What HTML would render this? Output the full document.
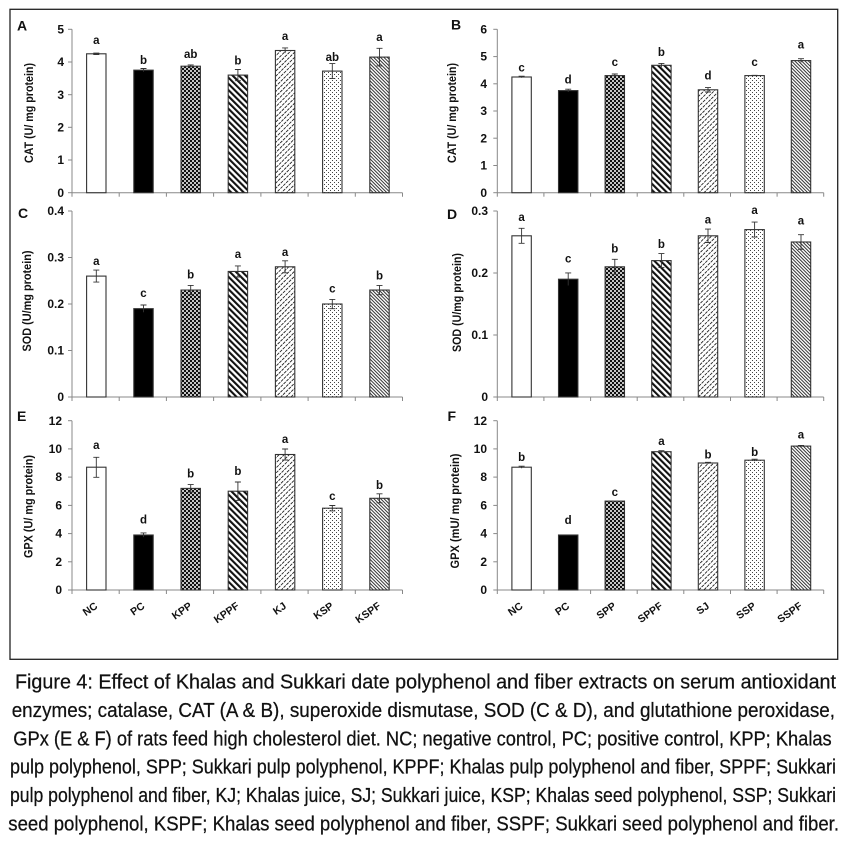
<!DOCTYPE html>
<html><head><meta charset="utf-8"><style>
html,body{margin:0;padding:0;background:#fff;}
svg{display:block;}
</style></head><body>
<svg width="849" height="845" viewBox="0 0 849 845" xmlns="http://www.w3.org/2000/svg">
<defs>
<pattern id="chk" width="4" height="4" patternUnits="userSpaceOnUse"><rect width="4" height="4" fill="#111"/><circle cx="1" cy="1" r="1" fill="#fff"/><circle cx="3" cy="3" r="1" fill="#fff"/></pattern>
<pattern id="str" width="4.4" height="4.4" patternUnits="userSpaceOnUse" patternTransform="rotate(-45)"><rect width="4.4" height="4.4" fill="#fff"/><rect width="2.1" height="4.4" fill="#111"/></pattern>
<pattern id="dsh" width="3.6" height="4" patternUnits="userSpaceOnUse" patternTransform="rotate(45)"><rect width="3.6" height="4" fill="#fff"/><rect width="0.9" height="3" fill="#222"/></pattern>
<pattern id="dot" width="4" height="4" patternUnits="userSpaceOnUse"><rect width="4" height="4" fill="#fff"/><rect width="1" height="1" fill="#444"/><rect x="2" y="2" width="1" height="1" fill="#444"/></pattern>
<pattern id="fin" width="2.4" height="2.4" patternUnits="userSpaceOnUse" patternTransform="rotate(-45)"><rect width="2.4" height="2.4" fill="#fff"/><rect width="1" height="2.4" fill="#333"/></pattern>
</defs>

<rect x="10" y="9.3" width="827.7" height="650" fill="none" stroke="#222" stroke-width="1.3"/>

<g font-family="Liberation Sans, Arial, sans-serif" font-weight="bold" fill="#111">

<!-- ================= PANEL A ================= -->
<text x="17" y="30.7" font-size="14">A</text>
<g stroke="#888" stroke-width="1">
<line x1="72" y1="29.3" x2="72" y2="192.7"/>
<line x1="72" y1="192.7" x2="402.5" y2="192.7"/>
<line x1="68" y1="192.7" x2="72" y2="192.7"/><line x1="68" y1="160" x2="72" y2="160"/><line x1="68" y1="127.3" x2="72" y2="127.3"/><line x1="68" y1="94.7" x2="72" y2="94.7"/><line x1="68" y1="62" x2="72" y2="62"/><line x1="68" y1="29.3" x2="72" y2="29.3"/>
<line x1="72" y1="192.7" x2="72" y2="196.7"/><line x1="119.2" y1="192.7" x2="119.2" y2="196.7"/><line x1="166.4" y1="192.7" x2="166.4" y2="196.7"/><line x1="213.6" y1="192.7" x2="213.6" y2="196.7"/><line x1="260.9" y1="192.7" x2="260.9" y2="196.7"/><line x1="308.1" y1="192.7" x2="308.1" y2="196.7"/><line x1="355.3" y1="192.7" x2="355.3" y2="196.7"/><line x1="402.5" y1="192.7" x2="402.5" y2="196.7"/>
</g>
<g font-size="12" text-anchor="end">
<text x="64" y="196.8">0</text><text x="64" y="164.1">1</text><text x="64" y="131.4">2</text><text x="64" y="98.8">3</text><text x="64" y="66.1">4</text><text x="64" y="33.4">5</text>
</g>
<text transform="translate(33,113) rotate(-90)" font-size="11.5" text-anchor="middle" textLength="100" lengthAdjust="spacingAndGlyphs">CAT (U/ mg protein)</text>
<g stroke="#333" stroke-width="1.1">
<rect x="86.6" y="53.8" width="19.4" height="138.9" fill="#fff"/>
<rect x="133.8" y="70.15" width="19.4" height="122.55" fill="#000"/>
<rect x="181" y="66.2" width="19.4" height="126.5" fill="url(#chk)"/>
<rect x="228.2" y="75.1" width="19.4" height="117.6" fill="url(#str)"/>
<rect x="275.4" y="50.5" width="19.4" height="142.2" fill="url(#dsh)"/>
<rect x="322.6" y="71.1" width="19.4" height="121.6" fill="url(#dot)"/>
<rect x="369.8" y="57.1" width="19.4" height="135.6" fill="url(#fin)"/>
</g>
<g stroke="#333" stroke-width="0.9">
<path d="M96.3 53.1V54.5M93.3 53.1H99.3M93.3 54.5H99.3"/>
<path d="M143.5 68.5V71.8M140.5 68.5H146.5"/>
<path d="M190.7 64.9V67.5M187.7 64.9H193.7"/>
<path d="M237.9 69.5V80.7M234.9 69.5H240.9M234.9 80.7H240.9"/>
<path d="M285.1 47.9V53.1M282.1 47.9H288.1"/>
<path d="M332.3 63.6V78.6M329.3 63.6H335.3M329.3 78.6H335.3"/>
<path d="M379.5 48.3V65.9M376.5 48.3H382.5M376.5 65.9H382.5"/>
</g>
<g font-size="11.5" text-anchor="middle">
<text x="96.3" y="44">a</text><text x="143.5" y="64">b</text><text x="190.7" y="58">ab</text><text x="237.9" y="64.5">b</text><text x="285.1" y="40">a</text><text x="332.3" y="61">ab</text><text x="379.5" y="41">a</text>
</g>

<!-- ================= PANEL B ================= -->
<text x="451" y="29.5" font-size="14">B</text>
<g stroke="#888" stroke-width="1">
<line x1="497.3" y1="29.3" x2="497.3" y2="192.7"/>
<line x1="497.3" y1="192.7" x2="823.7" y2="192.7"/>
<line x1="493.3" y1="192.7" x2="497.3" y2="192.7"/><line x1="493.3" y1="165.5" x2="497.3" y2="165.5"/><line x1="493.3" y1="138.2" x2="497.3" y2="138.2"/><line x1="493.3" y1="111" x2="497.3" y2="111"/><line x1="493.3" y1="83.8" x2="497.3" y2="83.8"/><line x1="493.3" y1="56.6" x2="497.3" y2="56.6"/><line x1="493.3" y1="29.3" x2="497.3" y2="29.3"/>
<line x1="497.3" y1="192.7" x2="497.3" y2="196.7"/><line x1="543.9" y1="192.7" x2="543.9" y2="196.7"/><line x1="590.6" y1="192.7" x2="590.6" y2="196.7"/><line x1="637.2" y1="192.7" x2="637.2" y2="196.7"/><line x1="683.8" y1="192.7" x2="683.8" y2="196.7"/><line x1="730.5" y1="192.7" x2="730.5" y2="196.7"/><line x1="777.1" y1="192.7" x2="777.1" y2="196.7"/><line x1="823.7" y1="192.7" x2="823.7" y2="196.7"/>
</g>
<g font-size="12" text-anchor="end">
<text x="487" y="196.8">0</text><text x="487" y="169.6">1</text><text x="487" y="142.3">2</text><text x="487" y="115.1">3</text><text x="487" y="87.9">4</text><text x="487" y="60.7">5</text><text x="487" y="33.4">6</text>
</g>
<text transform="translate(456,113) rotate(-90)" font-size="11.5" text-anchor="middle" textLength="100" lengthAdjust="spacingAndGlyphs">CAT (U/ mg protein)</text>
<g stroke="#333" stroke-width="1.1">
<rect x="511.9" y="77" width="19.4" height="115.7" fill="#fff"/>
<rect x="558.5" y="90.6" width="19.4" height="102.1" fill="#000"/>
<rect x="605.1" y="75.6" width="19.4" height="117.1" fill="url(#chk)"/>
<rect x="651.7" y="65.3" width="19.4" height="127.4" fill="url(#str)"/>
<rect x="698.3" y="89.8" width="19.4" height="102.9" fill="url(#dsh)"/>
<rect x="744.9" y="75.6" width="19.4" height="117.1" fill="url(#dot)"/>
<rect x="791.3" y="60.6" width="19.4" height="132.1" fill="url(#fin)"/>
</g>
<g stroke="#333" stroke-width="0.9">
<path d="M521.6 76.2V77.8M518.6 76.2H524.6"/>
<path d="M568.2 89.2V92M565.2 89.2H571.2"/>
<path d="M614.8 74V77.2M611.8 74H617.8"/>
<path d="M661.4 63.4V67.2M658.4 63.4H664.4"/>
<path d="M708 87.6V92M705 87.6H711M705 92H711"/>
<path d="M754.6 75.3V75.9M751.6 75.3H757.6"/>
<path d="M801 58.7V62.5M798 58.7H804"/>
</g>
<g font-size="11.5" text-anchor="middle">
<text x="521.6" y="71.5">c</text><text x="568.2" y="83.5">d</text><text x="614.8" y="66">c</text><text x="661.4" y="56">b</text><text x="708" y="79.5">d</text><text x="754.6" y="66">c</text><text x="801" y="48.5">a</text>
</g>

<!-- ================= PANEL C ================= -->
<text x="18" y="218" font-size="14">C</text>
<g stroke="#888" stroke-width="1">
<line x1="72" y1="211" x2="72" y2="397"/>
<line x1="72" y1="397" x2="402.5" y2="397"/>
<line x1="68" y1="397" x2="72" y2="397"/><line x1="68" y1="350.5" x2="72" y2="350.5"/><line x1="68" y1="304" x2="72" y2="304"/><line x1="68" y1="257.5" x2="72" y2="257.5"/><line x1="68" y1="211" x2="72" y2="211"/>
<line x1="72" y1="397" x2="72" y2="401"/><line x1="119.2" y1="397" x2="119.2" y2="401"/><line x1="166.4" y1="397" x2="166.4" y2="401"/><line x1="213.6" y1="397" x2="213.6" y2="401"/><line x1="260.9" y1="397" x2="260.9" y2="401"/><line x1="308.1" y1="397" x2="308.1" y2="401"/><line x1="355.3" y1="397" x2="355.3" y2="401"/><line x1="402.5" y1="397" x2="402.5" y2="401"/>
</g>
<g font-size="12" text-anchor="end">
<text x="64" y="401.1">0</text><text x="64" y="354.6">0.1</text><text x="64" y="308.1">0.2</text><text x="64" y="261.6">0.3</text><text x="64" y="215.1">0.4</text>
</g>
<text transform="translate(31,301) rotate(-90)" font-size="11.5" text-anchor="middle" textLength="101" lengthAdjust="spacingAndGlyphs">SOD (U/mg protein)</text>
<g stroke="#333" stroke-width="1.1">
<rect x="86.6" y="276.1" width="19.4" height="120.9" fill="#fff"/>
<rect x="133.8" y="308.65" width="19.4" height="88.35" fill="#000"/>
<rect x="181" y="290.05" width="19.4" height="106.95" fill="url(#chk)"/>
<rect x="228.2" y="271.45" width="19.4" height="125.55" fill="url(#str)"/>
<rect x="275.4" y="266.8" width="19.4" height="130.2" fill="url(#dsh)"/>
<rect x="322.6" y="304" width="19.4" height="93" fill="url(#dot)"/>
<rect x="369.8" y="290.05" width="19.4" height="106.95" fill="url(#fin)"/>
</g>
<g stroke="#333" stroke-width="0.9">
<path d="M96.3 270.1V282.1M93.3 270.1H99.3M93.3 282.1H99.3"/>
<path d="M143.5 305V312.3M140.5 305H146.5"/>
<path d="M190.7 285.4V294.7M187.7 285.4H193.7M187.7 294.7H193.7"/>
<path d="M237.9 265.9V277M234.9 265.9H240.9M234.9 277H240.9"/>
<path d="M285.1 260.8V272.8M282.1 260.8H288.1M282.1 272.8H288.1"/>
<path d="M332.3 299.4V308.7M329.3 299.4H335.3M329.3 308.7H335.3"/>
<path d="M379.5 285.4V294.7M376.5 285.4H382.5M376.5 294.7H382.5"/>
</g>
<g font-size="11.5" text-anchor="middle">
<text x="96.3" y="265">a</text><text x="143.5" y="297">c</text><text x="190.7" y="278.5">b</text><text x="237.9" y="258">a</text><text x="285.1" y="256">a</text><text x="332.3" y="292.5">c</text><text x="379.5" y="279.5">b</text>
</g>

<!-- ================= PANEL D ================= -->
<text x="447" y="219" font-size="14">D</text>
<g stroke="#888" stroke-width="1">
<line x1="497.3" y1="211" x2="497.3" y2="397"/>
<line x1="497.3" y1="397" x2="823.7" y2="397"/>
<line x1="493.3" y1="397" x2="497.3" y2="397"/><line x1="493.3" y1="335" x2="497.3" y2="335"/><line x1="493.3" y1="273" x2="497.3" y2="273"/><line x1="493.3" y1="211" x2="497.3" y2="211"/>
<line x1="497.3" y1="397" x2="497.3" y2="401"/><line x1="543.9" y1="397" x2="543.9" y2="401"/><line x1="590.6" y1="397" x2="590.6" y2="401"/><line x1="637.2" y1="397" x2="637.2" y2="401"/><line x1="683.8" y1="397" x2="683.8" y2="401"/><line x1="730.5" y1="397" x2="730.5" y2="401"/><line x1="777.1" y1="397" x2="777.1" y2="401"/><line x1="823.7" y1="397" x2="823.7" y2="401"/>
</g>
<g font-size="12" text-anchor="end">
<text x="488" y="401.1">0</text><text x="488" y="339.1">0.1</text><text x="488" y="277.1">0.2</text><text x="488" y="215.1">0.3</text>
</g>
<text transform="translate(461,302.5) rotate(-90)" font-size="11.5" text-anchor="middle" textLength="99" lengthAdjust="spacingAndGlyphs">SOD (U/mg protein)</text>
<g stroke="#333" stroke-width="1.1">
<rect x="511.9" y="235.8" width="19.4" height="161.2" fill="#fff"/>
<rect x="558.5" y="279.2" width="19.4" height="117.8" fill="#000"/>
<rect x="605.1" y="266.8" width="19.4" height="130.2" fill="url(#chk)"/>
<rect x="651.7" y="260.6" width="19.4" height="136.4" fill="url(#str)"/>
<rect x="698.3" y="235.8" width="19.4" height="161.2" fill="url(#dsh)"/>
<rect x="744.9" y="229.6" width="19.4" height="167.4" fill="url(#dot)"/>
<rect x="791.3" y="242" width="19.4" height="155" fill="url(#fin)"/>
</g>
<g stroke="#333" stroke-width="0.9">
<path d="M521.6 228.3V243.3M518.6 228.3H524.6M518.6 243.3H524.6"/>
<path d="M568.2 272.9V285.5M565.2 272.9H571.2"/>
<path d="M614.8 259.3V274.3M611.8 259.3H617.8M611.8 274.3H617.8"/>
<path d="M661.4 253.6V267.6M658.4 253.6H664.4M658.4 267.6H664.4"/>
<path d="M708 229.1V242.5M705 229.1H711M705 242.5H711"/>
<path d="M754.6 222.1V237.1M751.6 222.1H757.6M751.6 237.1H757.6"/>
<path d="M801 234.7V249.3M798 234.7H804M798 249.3H804"/>
</g>
<g font-size="11.5" text-anchor="middle">
<text x="521.6" y="221">a</text><text x="568.2" y="262.5">c</text><text x="614.8" y="252.5">b</text><text x="661.4" y="248">b</text><text x="708" y="223.5">a</text><text x="754.6" y="214">a</text><text x="801" y="224.5">a</text>
</g>

<!-- ================= PANEL E ================= -->
<text x="17" y="421" font-size="14">E</text>
<g stroke="#888" stroke-width="1">
<line x1="72" y1="420.7" x2="72" y2="590"/>
<line x1="72" y1="590" x2="402.5" y2="590"/>
<line x1="68" y1="590" x2="72" y2="590"/><line x1="68" y1="561.8" x2="72" y2="561.8"/><line x1="68" y1="533.6" x2="72" y2="533.6"/><line x1="68" y1="505.4" x2="72" y2="505.4"/><line x1="68" y1="477.1" x2="72" y2="477.1"/><line x1="68" y1="448.9" x2="72" y2="448.9"/><line x1="68" y1="420.7" x2="72" y2="420.7"/>
<line x1="72" y1="590" x2="72" y2="594"/><line x1="119.2" y1="590" x2="119.2" y2="594"/><line x1="166.4" y1="590" x2="166.4" y2="594"/><line x1="213.6" y1="590" x2="213.6" y2="594"/><line x1="260.9" y1="590" x2="260.9" y2="594"/><line x1="308.1" y1="590" x2="308.1" y2="594"/><line x1="355.3" y1="590" x2="355.3" y2="594"/><line x1="402.5" y1="590" x2="402.5" y2="594"/>
</g>
<g font-size="12" text-anchor="end">
<text x="62" y="594.1">0</text><text x="62" y="565.9">2</text><text x="62" y="537.7">4</text><text x="62" y="509.5">6</text><text x="62" y="481.2">8</text><text x="62" y="453">10</text><text x="62" y="424.8">12</text>
</g>
<text transform="translate(32.5,506.5) rotate(-90)" font-size="11.5" text-anchor="middle" textLength="103" lengthAdjust="spacingAndGlyphs">GPX (U/ mg protein)</text>
<g stroke="#333" stroke-width="1.1">
<rect x="86.6" y="467.2" width="19.4" height="122.8" fill="#fff"/>
<rect x="133.8" y="535" width="19.4" height="55" fill="#000"/>
<rect x="181" y="488.4" width="19.4" height="101.6" fill="url(#chk)"/>
<rect x="228.2" y="491.2" width="19.4" height="98.8" fill="url(#str)"/>
<rect x="275.4" y="454.5" width="19.4" height="135.5" fill="url(#dsh)"/>
<rect x="322.6" y="508.2" width="19.4" height="81.8" fill="url(#dot)"/>
<rect x="369.8" y="498.3" width="19.4" height="91.7" fill="url(#fin)"/>
</g>
<g stroke="#333" stroke-width="0.9">
<path d="M96.3 457.3V477.3M93.3 457.3H99.3M93.3 477.3H99.3"/>
<path d="M143.5 532.9V537.1M140.5 532.9H146.5"/>
<path d="M190.7 484.6V492.2M187.7 484.6H193.7M187.7 492.2H193.7"/>
<path d="M237.9 482V500.4M234.9 482H240.9M234.9 500.4H240.9"/>
<path d="M285.1 449V460M282.1 449H288.1M282.1 460H288.1"/>
<path d="M332.3 505.5V510.9M329.3 505.5H335.3M329.3 510.9H335.3"/>
<path d="M379.5 493.8V502.8M376.5 493.8H382.5M376.5 502.8H382.5"/>
</g>
<g font-size="11.5" text-anchor="middle">
<text x="96.3" y="449">a</text><text x="143.5" y="523.5">d</text><text x="190.7" y="477.5">b</text><text x="237.9" y="475">b</text><text x="285.1" y="443">a</text><text x="332.3" y="500">c</text><text x="379.5" y="489">b</text>
</g>
<g font-size="10.5" text-anchor="end">
<text transform="translate(98.3,607.5) rotate(-35)">NC</text>
<text transform="translate(145.5,607.5) rotate(-35)">PC</text>
<text transform="translate(192.7,607.5) rotate(-35)">KPP</text>
<text transform="translate(239.9,607.5) rotate(-35)">KPPF</text>
<text transform="translate(287.1,607.5) rotate(-35)">KJ</text>
<text transform="translate(334.3,607.5) rotate(-35)">KSP</text>
<text transform="translate(381.5,607.5) rotate(-35)">KSPF</text>
</g>

<!-- ================= PANEL F ================= -->
<text x="447.5" y="421" font-size="14">F</text>
<g stroke="#888" stroke-width="1">
<line x1="497.3" y1="420.7" x2="497.3" y2="590"/>
<line x1="497.3" y1="590" x2="823.7" y2="590"/>
<line x1="493.3" y1="590" x2="497.3" y2="590"/><line x1="493.3" y1="561.8" x2="497.3" y2="561.8"/><line x1="493.3" y1="533.6" x2="497.3" y2="533.6"/><line x1="493.3" y1="505.4" x2="497.3" y2="505.4"/><line x1="493.3" y1="477.1" x2="497.3" y2="477.1"/><line x1="493.3" y1="448.9" x2="497.3" y2="448.9"/><line x1="493.3" y1="420.7" x2="497.3" y2="420.7"/>
<line x1="497.3" y1="590" x2="497.3" y2="594"/><line x1="543.9" y1="590" x2="543.9" y2="594"/><line x1="590.6" y1="590" x2="590.6" y2="594"/><line x1="637.2" y1="590" x2="637.2" y2="594"/><line x1="683.8" y1="590" x2="683.8" y2="594"/><line x1="730.5" y1="590" x2="730.5" y2="594"/><line x1="777.1" y1="590" x2="777.1" y2="594"/><line x1="823.7" y1="590" x2="823.7" y2="594"/>
</g>
<g font-size="12" text-anchor="end">
<text x="487" y="594.1">0</text><text x="487" y="565.9">2</text><text x="487" y="537.7">4</text><text x="487" y="509.5">6</text><text x="487" y="481.2">8</text><text x="487" y="453">10</text><text x="487" y="424.8">12</text>
</g>
<text transform="translate(459,511) rotate(-90)" font-size="11.5" text-anchor="middle" textLength="115" lengthAdjust="spacingAndGlyphs">GPX (mU/ mg protein)</text>
<g stroke="#333" stroke-width="1.1">
<rect x="511.9" y="467.2" width="19.4" height="122.8" fill="#fff"/>
<rect x="558.5" y="535" width="19.4" height="55" fill="#000"/>
<rect x="605.1" y="501.1" width="19.4" height="88.9" fill="url(#chk)"/>
<rect x="651.7" y="451.7" width="19.4" height="138.3" fill="url(#str)"/>
<rect x="698.3" y="463" width="19.4" height="127" fill="url(#dsh)"/>
<rect x="744.9" y="460.2" width="19.4" height="129.8" fill="url(#dot)"/>
<rect x="791.3" y="446.1" width="19.4" height="143.9" fill="url(#fin)"/>
</g>
<g stroke="#333" stroke-width="0.9">
<path d="M521.6 466.2V468.2M518.6 466.2H524.6"/>
<path d="M661.4 450.7V452.7M658.4 450.7H664.4"/>
<path d="M708 462.3V463.7M705 462.3H711"/>
<path d="M754.6 459.2V461.2M751.6 459.2H757.6"/>
<path d="M801 445.4V446.8M798 445.4H804"/>
</g>
<g font-size="11.5" text-anchor="middle">
<text x="521.6" y="461">b</text><text x="568.2" y="524">d</text><text x="614.8" y="496">c</text><text x="661.4" y="445">a</text><text x="708" y="458.5">b</text><text x="754.6" y="456">b</text><text x="801" y="438.5">a</text>
</g>
<g font-size="10.5" text-anchor="end">
<text transform="translate(523.6,607.5) rotate(-35)">NC</text>
<text transform="translate(570.2,607.5) rotate(-35)">PC</text>
<text transform="translate(616.8,607.5) rotate(-35)">SPP</text>
<text transform="translate(663.4,607.5) rotate(-35)">SPPF</text>
<text transform="translate(710,607.5) rotate(-35)">SJ</text>
<text transform="translate(756.6,607.5) rotate(-35)">SSP</text>
<text transform="translate(803,607.5) rotate(-35)">SSPF</text>
</g>
</g>

<!-- ================= CAPTION ================= -->
<g font-family="Liberation Sans, Arial, sans-serif" font-size="20" fill="#111" stroke="#111" stroke-width="0.25">
<text x="15" y="688.5" textLength="821" lengthAdjust="spacingAndGlyphs">Figure 4: Effect of Khalas and Sukkari date polyphenol and fiber extracts on serum antioxidant</text>
<text x="11.7" y="716.9" textLength="823.3" lengthAdjust="spacingAndGlyphs">enzymes; catalase, CAT (A &amp; B), superoxide dismutase, SOD (C &amp; D), and glutathione peroxidase,</text>
<text x="13.3" y="745.3" textLength="818.4" lengthAdjust="spacingAndGlyphs">GPx (E &amp; F) of rats feed high cholesterol diet. NC; negative control, PC; positive control, KPP; Khalas</text>
<text x="10" y="773.7" textLength="826" lengthAdjust="spacingAndGlyphs">pulp polyphenol, SPP; Sukkari pulp polyphenol, KPPF; Khalas pulp polyphenol and fiber, SPPF; Sukkari</text>
<text x="10" y="802.1" textLength="826" lengthAdjust="spacingAndGlyphs">pulp polyphenol and fiber, KJ; Khalas juice, SJ; Sukkari juice, KSP; Khalas seed polyphenol, SSP; Sukkari</text>
<text x="8.3" y="830.5" textLength="830.7" lengthAdjust="spacingAndGlyphs">seed polyphenol, KSPF; Khalas seed polyphenol and fiber, SSPF; Sukkari seed polyphenol and fiber.</text>
</g>
</svg>
</body></html>
